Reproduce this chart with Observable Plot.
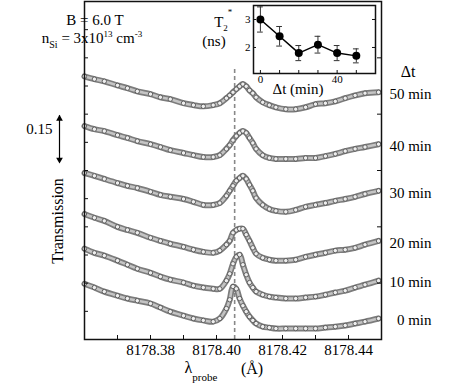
<!DOCTYPE html>
<html><head><meta charset="utf-8">
<script src="https://cdn.jsdelivr.net/npm/d3@7"></script>
<script src="https://cdn.jsdelivr.net/npm/@observablehq/plot@0.6"></script>
<style>
body{margin:0;background:#fff;}
#wrap{position:relative;width:469px;height:385px;font-family:"Liberation Serif","Times New Roman",serif;}
#wrap svg{position:absolute;left:0;top:0;overflow:visible;}
#wrap svg text{font-family:"Liberation Serif","Times New Roman",serif !important;}
</style></head><body><div id="wrap"></div>
<script>
// probe wavelength (Å)
const lambda = [8178.360,8178.363,8178.366,8178.370,8178.373,8178.376,8178.380,8178.383,8178.386,8178.390,8178.393,8178.396,8178.399,8178.401,8178.403,8178.404,8178.405,8178.406,8178.407,8178.408,8178.409,8178.410,8178.411,8178.412,8178.414,8178.416,8178.418,8178.421,8178.424,8178.427,8178.430,8178.433,8178.436,8178.439,8178.442,8178.445,8178.4491];
// transmission (offset traces)
const t0  = [0.178,0.166,0.153,0.140,0.131,0.124,0.115,0.102,0.089,0.076,0.067,0.061,0.057,0.067,0.099,0.127,0.169,0.162,0.131,0.108,0.089,0.073,0.061,0.051,0.041,0.038,0.035,0.035,0.035,0.035,0.035,0.038,0.041,0.045,0.051,0.057,0.067];
const t10 = [0.290,0.277,0.268,0.252,0.239,0.226,0.213,0.201,0.191,0.182,0.172,0.166,0.162,0.162,0.188,0.210,0.242,0.264,0.271,0.239,0.207,0.182,0.166,0.153,0.143,0.137,0.134,0.131,0.131,0.134,0.137,0.143,0.150,0.156,0.166,0.175,0.188];
const t20 = [0.401,0.389,0.379,0.360,0.350,0.341,0.325,0.315,0.306,0.296,0.287,0.280,0.277,0.284,0.303,0.315,0.341,0.350,0.354,0.354,0.335,0.315,0.293,0.274,0.261,0.255,0.252,0.252,0.255,0.264,0.271,0.277,0.284,0.287,0.293,0.303,0.315];
const t30 = [0.532,0.523,0.513,0.500,0.491,0.484,0.472,0.462,0.456,0.449,0.440,0.430,0.430,0.436,0.459,0.475,0.491,0.507,0.516,0.523,0.513,0.494,0.475,0.452,0.430,0.417,0.411,0.408,0.414,0.424,0.430,0.436,0.443,0.449,0.456,0.465,0.475];
const t40 = [0.682,0.672,0.666,0.653,0.644,0.634,0.624,0.615,0.605,0.596,0.589,0.583,0.583,0.589,0.609,0.621,0.637,0.650,0.660,0.666,0.660,0.644,0.628,0.609,0.589,0.580,0.577,0.577,0.577,0.580,0.580,0.586,0.593,0.602,0.609,0.615,0.624];
const t50 = [0.841,0.832,0.825,0.812,0.803,0.793,0.784,0.774,0.768,0.755,0.749,0.745,0.749,0.755,0.771,0.780,0.790,0.800,0.809,0.816,0.809,0.796,0.787,0.774,0.758,0.749,0.742,0.736,0.736,0.742,0.752,0.755,0.761,0.771,0.780,0.787,0.790];
const delayLabels = ["0 min","10 min","20 min","30 min","40 min","50 min"];
const xTicks = [8178.38,8178.40,8178.42,8178.44];
const xMinorTicks = [8178.37,8178.38,8178.39,8178.40,8178.41,8178.42,8178.43,8178.44];
const yTicks = [0.09,0.18,0.27,0.36,0.45,0.54,0.63,0.72,0.81,0.90,0.99];
const yRightTicks = [0.18,0.36,0.54,0.72,0.90];
const dashedLambda = 8178.4055;
const dashedTop = 0.863;
const scaleBar = [0.565, 0.715];
// inset: T2* vs delay
const dt = [0,10,20,30,40,50];
const t2 = [3.0,2.4,1.8,2.1,1.8,1.7];
const t2err = [0.45,0.35,0.27,0.3,0.27,0.25];
const insetXTicks = [0,10,20,30,40,50];
const insetXLabels = [0,40];
const insetYTicks = [2,3];

const series = [t0,t10,t20,t30,t40,t50].map((v,i)=>({label:delayLabels[i], values:v}));
const rows = series.flatMap(s => s.values.map((v,i)=>({label:s.label, lambda:lambda[i], value:v})));
const ends = series.map(s => ({label:s.label, lambda:lambda[lambda.length-1], value:s.values[s.values.length-1]}));
const insetRows = dt.map((d,i)=>({dt:d, t:t2[i], e:t2err[i]}));

const serif = "Liberation Serif";
const xMin = 8178.36, xMax = 8178.45, yMax = 1.08;
const tickX = 4/3300, tickY = 4*yMax/338;   // ~4 px inward ticks
const main = Plot.plot({
  width:469, height:385, marginLeft:84, marginRight:88, marginTop:1, marginBottom:46,
  style:{fontFamily:serif, fontSize:"15px", background:"transparent", color:"#000"},
  x:{domain:[xMin,xMax], axis:null},
  y:{domain:[0,yMax], axis:null},
  marks:[
    Plot.ruleX([dashedLambda],{y1:0, y2:dashedTop, stroke:"#888", strokeWidth:1.6, strokeDasharray:"4,3"}),
    Plot.line(rows,{x:"lambda", y:"value", z:"label", stroke:"#7c7c7c", strokeWidth:6, curve:"catmull-rom"}),
    Plot.line(rows,{x:"lambda", y:"value", z:"label", stroke:"#c4c4c4", strokeWidth:2.6, curve:"catmull-rom"}),
    Plot.dot(rows,{x:"lambda", y:"value", r:2.2, fill:"#eee", stroke:"#555", strokeWidth:0.9}),
    Plot.ruleX(xMinorTicks,{y1:0, y2:tickY, stroke:"#111", strokeWidth:1}),
    Plot.axisX(xTicks,{anchor:"bottom", tickSize:0, tickPadding:5, tickFormat:d=>d.toFixed(2), label:null, fontSize:15}),
    Plot.ruleY(yTicks,{x1:xMin, x2:xMin+tickX, stroke:"#111", strokeWidth:1}),
    Plot.ruleY(yRightTicks,{x1:xMax-tickX, x2:xMax, stroke:"#111", strokeWidth:1}),
    Plot.frame({stroke:"#111", strokeWidth:1.5}),
    Plot.text(ends,{x:"lambda", y:"value", text:"label", textAnchor:"end", dx:53, dy:2, fontSize:15}),
    Plot.ruleX([xMin],{y1:scaleBar[0], y2:scaleBar[1], dx:-25, stroke:"#000", strokeWidth:1.2}),
    Plot.dot([scaleBar[1]],{x:()=>xMin, y:d=>d, dx:-25, dy:3, symbol:"triangle2", r:3.2, fill:"#000", rotate:0}),
    Plot.dot([scaleBar[0]],{x:()=>xMin, y:d=>d, dx:-25, dy:-3, symbol:"triangle2", r:3.2, fill:"#000", rotate:180}),
    Plot.text(["0.15"],{x:()=>xMin, y:()=>(scaleBar[0]+scaleBar[1])/2, dx:-32, dy:-10, textAnchor:"end", fontSize:15}),
    Plot.text(["Δt"],{frameAnchor:"top-right", dx:34, dy:64, textAnchor:"end", fontSize:16})
  ]
});

const ixMin = -3.6, ixMax = 60, iyMin = 1.07, iyMax = 3.5;
const itx = 3*(ixMax-ixMin)/122, ity = 3*(iyMax-iyMin)/68;
const inset = Plot.plot({
  width:190, height:100, marginLeft:53, marginRight:15, marginTop:5, marginBottom:27,
  style:{fontFamily:serif, fontSize:"11px", background:"transparent", color:"#000"},
  x:{domain:[ixMin,ixMax], axis:null},
  y:{domain:[iyMin,iyMax], axis:null},
  marks:[
    Plot.ruleX(insetRows,{x:"dt", y1:d=>d.t-d.e, y2:d=>d.t+d.e, stroke:"#333", strokeWidth:1, clip:true}),
    Plot.ruleY(insetRows,{y:d=>d.t-d.e, x1:d=>d.dt-1.5, x2:d=>d.dt+1.5, stroke:"#333", strokeWidth:1, clip:true}),
    Plot.ruleY(insetRows,{y:d=>d.t+d.e, x1:d=>d.dt-1.5, x2:d=>d.dt+1.5, stroke:"#333", strokeWidth:1, clip:true}),
    Plot.line(insetRows,{x:"dt", y:"t", stroke:"#000", strokeWidth:1.5}),
    Plot.dot(insetRows,{x:"dt", y:"t", r:4, fill:"#000"}),
    Plot.ruleX(insetXTicks,{y1:iyMin, y2:iyMin+ity, stroke:"#111", strokeWidth:1}),
    Plot.axisX(insetXLabels,{anchor:"bottom", tickSize:0, tickPadding:2, label:null, fontSize:11}),
    Plot.ruleY(insetYTicks,{x1:ixMin, x2:ixMin+itx, stroke:"#111", strokeWidth:1}),
    Plot.ruleY(insetYTicks,{x1:ixMax-itx, x2:ixMax, stroke:"#111", strokeWidth:1}),
    Plot.axisY(insetYTicks,{anchor:"left", tickSize:0, tickPadding:3, label:null, fontSize:11}),
    Plot.frame({stroke:"#111", strokeWidth:1.5})
  ]
});
inset.style.left = "200px";

const wrap = document.getElementById("wrap");
wrap.append(main);
wrap.append(inset);

const svg = d3.select(main);
const g = svg.append("g").attr("font-family", serif).attr("fill","#000");
g.append("text").attr("x",95).attr("y",25).attr("font-size",15).text("B = 6.0 T");
const n = g.append("text").attr("x",92).attr("y",43).attr("font-size",15);
n.append("tspan").text("n");
n.append("tspan").attr("font-size",10).attr("dy",5).text("Si");
n.append("tspan").attr("dy",-5).text(" = 3x10");
n.append("tspan").attr("font-size",9).attr("dy",-6).text("13");
n.append("tspan").attr("dy",6).text(" cm");
n.append("tspan").attr("font-size",9).attr("dy",-6).text("-3");
g.append("text").attr("transform","translate(63,221) rotate(-90)").attr("text-anchor","middle").attr("font-size",16).text("Transmission");
const lp = g.append("text").attr("x",201).attr("y",373).attr("font-size",16);
lp.append("tspan").text("λ");
lp.append("tspan").attr("font-size",11).attr("dy",8).text("probe");
g.append("text").attr("x",252).attr("y",374).attr("font-size",16).text("(Å)");
const tt = g.append("text").attr("x",221).attr("y",27).attr("font-size",15);
tt.append("tspan").text("T");
tt.append("tspan").attr("font-size",9).attr("dy",4).text("2");
g.append("text").attr("x",230).attr("y",15).attr("font-size",9).text("*");
g.append("text").attr("x",214).attr("y",46).attr("font-size",15).text("(ns)");
g.append("text").attr("x",298).attr("y",94).attr("text-anchor","middle").attr("font-size",15).text("Δt (min)");
</script></body></html>
